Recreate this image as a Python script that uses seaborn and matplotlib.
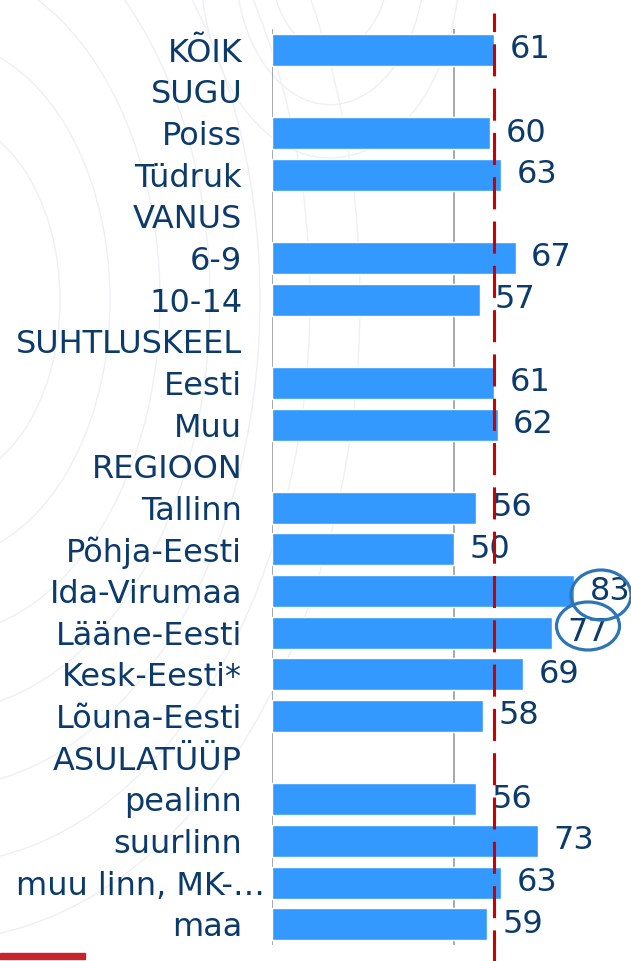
import numpy as np
import pandas as pd
import matplotlib
import matplotlib.pyplot as plt
import matplotlib.transforms as mtransforms
import seaborn as sns
from matplotlib.patches import Ellipse, Rectangle, Circle

matplotlib.use('Agg')

# 类别与数值（标题行没有数值）
categories = ["KÕIK", "SUGU", "Poiss", "Tüdruk", "VANUS", "6-9", "10-14",
              "SUHTLUSKEEL", "Eesti", "Muu", "REGIOON", "Tallinn", "Põhja-Eesti",
              "Ida-Virumaa", "Lääne-Eesti", "Kesk-Eesti*", "Lõuna-Eesti",
              "ASULATÜÜP", "pealinn", "suurlinn", "muu linn, MK-…", "maa"]
values = [61, None, 60, 63, None, 67, 57,
          None, 61, 62, None, 56, 50,
          83, 77, 69, 58,
          None, 56, 73, 63, 59]
average = 61
circled = ["Ida-Virumaa", "Lääne-Eesti"]

TEXT_COLOR = "#0B3A6B"
BAR_COLOR = "#3399FF"
FS = 23

sns.set_style("white")
plt.rcParams['font.family'] = ['DejaVu Sans']

df = pd.DataFrame({"cat": categories, "val": values})

fig = plt.figure(figsize=(6.31, 9.61), dpi=100)

# 背景装饰弧线（很淡）
for r in [120, 170, 220, 270, 320, 370, 420]:
    fig.add_artist(Circle((-60 / 631, 1 - 300 / 961), r / 631, transform=fig.transFigure,
                          fill=False, edgecolor="#EEF0F4", linewidth=1.0, zorder=0))
for r in [60, 95, 130]:
    fig.add_artist(Circle((330 / 631, 1 - (-40) / 961), r / 631, transform=fig.transFigure,
                          fill=False, edgecolor="#EEF0F4", linewidth=1.0, zorder=0))

ax = fig.add_axes([272 / 631, 16 / 961, 1 - 272 / 631, 916 / 961])
ax.patch.set_alpha(0)

sns.barplot(data=df, y="cat", x="val", order=categories, orient="h",
            color=BAR_COLOR, saturation=1, width=0.77, ax=ax)

ax.set_xlim(0, 98.6)
ax.set_ylim(len(categories) - 0.5, -0.5)
ax.set_xticks([0, 50])
ax.set_xticklabels([])
ax.tick_params(axis='x', length=0)
ax.tick_params(axis='y', length=0, pad=21.5, labelsize=FS, labelcolor=TEXT_COLOR)
ax.set_xlabel("")
ax.set_ylabel("")
ax.xaxis.grid(True, color="#A0A0A8", linewidth=1.3)
ax.yaxis.grid(False)
sns.despine(ax=ax, left=True, bottom=True, top=True, right=True)

# 被截断的长标签向右伸出
for lab in ax.get_yticklabels():
    if lab.get_text().endswith("…"):
        lab.set_transform(lab.get_transform() +
                          mtransforms.ScaledTranslation(0.23, 0, fig.dpi_scale_trans))

# 数值标签
for i, v in enumerate(values):
    if v is None:
        continue
    ax.annotate(f"{v}", xy=(v, i), xytext=(11, 0), textcoords="offset points",
                ha="left", va="center", fontsize=FS, color=TEXT_COLOR)

# 平均线（红色虚线）
ax.axvline(average, ymin=-0.02, ymax=1.018, color="#CC0000", linewidth=2.2,
           linestyle=(0, (10.5, 4)), clip_on=False, zorder=5)

# 圈出的数值
ell_specs = {"Ida-Virumaa": (601, 595, 60, 50), "Lääne-Eesti": (588, 626, 63, 48)}
for name in circled:
    cx, cy, w, h = ell_specs[name]
    e = Ellipse((cx / 631, 1 - cy / 961), w / 631, h / 961, transform=fig.transFigure,
                fill=False, edgecolor="#2E75B6", linewidth=2.3, zorder=6)
    fig.add_artist(e)

# 左下角红色装饰线
fig.add_artist(Rectangle((0, 1 - 959 / 961), 85 / 631, 6 / 961,
                         transform=fig.transFigure, color="#C8242B"))

fig.savefig("out.png", dpi=100)
